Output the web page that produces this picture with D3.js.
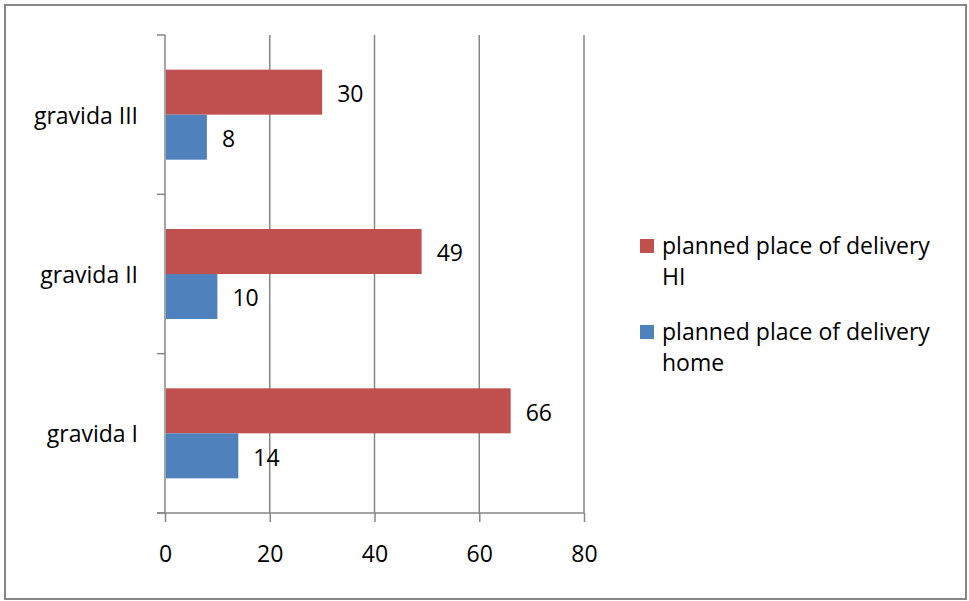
<!DOCTYPE html>
<html>
<head>
<meta charset="utf-8">
<script src="https://cdn.jsdelivr.net/npm/d3@7"></script>
<style>
  body { margin: 0; background: #fff; }
  svg text { font-family: "Open Sans", sans-serif; fill: #000; }
</style>
</head>
<body>
<div id="chart"></div>
<script>
// chart values
const categories = ['gravida III', 'gravida II', 'gravida I']
const seriesNames = ['planned place of delivery HI', 'planned place of delivery home']
const valuesHI = [30, 49, 66]
const valuesHome = [8, 10, 14]
const xTicks = [0, 20, 40, 60, 80]

const width = 969
const height = 601
const colors = ['#C0504D', '#4F81BD']
const gridColor = '#868686'
const fontFamily = '"Open Sans", sans-serif'
const fontSize = '23px'

const svg = d3
  .select('#chart')
  .append('svg')
  .attr('width', width)
  .attr('height', height)

// outer frame
svg
  .append('rect')
  .attr('x', 5)
  .attr('y', 5)
  .attr('width', 961)
  .attr('height', 594)
  .attr('fill', '#fff')
  .attr('stroke', gridColor)
  .attr('stroke-width', 2)

const plot = { left: 165, right: 584, top: 35, bottom: 513 }

const x = d3.scaleLinear().domain([0, 80]).range([plot.left, plot.right])
const y = d3.scaleBand().domain(categories).range([plot.top, plot.bottom])
const ySub = d3
  .scaleBand()
  .domain([0, 1])
  .range([0, y.bandwidth()])
  .paddingOuter(0.77)

// vertical grid lines
svg
  .append('g')
  .selectAll('line')
  .data(xTicks.slice(1))
  .join('line')
  .attr('x1', (d) => x(d))
  .attr('x2', (d) => x(d))
  .attr('y1', plot.top)
  .attr('y2', plot.bottom)
  .attr('stroke', gridColor)
  .attr('stroke-width', 1.5)

// bottom axis
const xAxis = svg
  .append('g')
  .attr('transform', `translate(0,${plot.bottom})`)
  .call(d3.axisBottom(x).tickValues(xTicks).tickSize(9).tickSizeOuter(0).tickPadding(24))
xAxis.select('.domain').attr('stroke', gridColor).attr('stroke-width', 1.5)
  .attr('d', `M${plot.left - 8},0H${plot.right}`)
xAxis.selectAll('.tick line').attr('stroke', gridColor).attr('stroke-width', 1.5)
xAxis.selectAll('.tick text').style('font-size', fontSize).attr('fill', '#000')
  .style('font-family', fontFamily)

// left axis with ticks on category boundaries
const yAxis = svg.append('g')
yAxis
  .append('line')
  .attr('x1', plot.left)
  .attr('x2', plot.left)
  .attr('y1', plot.top)
  .attr('y2', plot.bottom)
  .attr('stroke', gridColor)
  .attr('stroke-width', 1.5)
const bounds = categories.map((c) => y(c)).concat([plot.bottom])
yAxis
  .selectAll('line.tick')
  .data(bounds)
  .join('line')
  .attr('class', 'tick')
  .attr('x1', plot.left - 8)
  .attr('x2', plot.left)
  .attr('y1', (d) => d)
  .attr('y2', (d) => d)
  .attr('stroke', gridColor)
  .attr('stroke-width', 1.5)
yAxis
  .selectAll('text')
  .data(categories)
  .join('text')
  .attr('x', plot.left - 27)
  .attr('y', (d) => y(d) + y.bandwidth() / 2)
  .attr('text-anchor', 'end')
  .attr('dominant-baseline', 'central')
  .style('font-size', fontSize)
  .text((d) => d)

// bars
const rows = categories.map((c, i) => ({ cat: c, vals: [valuesHI[i], valuesHome[i]] }))
const groups = svg
  .append('g')
  .selectAll('g')
  .data(rows)
  .join('g')
  .attr('transform', (d) => `translate(0,${y(d.cat)})`)

groups
  .selectAll('rect')
  .data((d) => d.vals.map((v, k) => ({ v, k })))
  .join('rect')
  .attr('x', x(0) + 1)
  .attr('y', (d) => ySub(d.k))
  .attr('width', (d) => x(d.v) - x(0) - 1)
  .attr('height', ySub.bandwidth())
  .attr('fill', (d) => colors[d.k])

groups
  .selectAll('text')
  .data((d) => d.vals.map((v, k) => ({ v, k })))
  .join('text')
  .attr('x', (d) => x(d.v) + 15)
  .attr('y', (d) => ySub(d.k) + ySub.bandwidth() / 2 + 1)
  .attr('dominant-baseline', 'central')
  .style('font-size', fontSize)
  .text((d) => d.v)

// legend
const legend = svg.append('g').attr('transform', 'translate(640,0)')
const legendLines = [
  ['planned place of delivery', 'HI'],
  ['planned place of delivery', 'home'],
]
const legendY = [246, 332]
legendLines.forEach((lines, i) => {
  legend
    .append('rect')
    .attr('x', 0)
    .attr('y', legendY[i] - 7)
    .attr('width', 14)
    .attr('height', 14)
    .attr('fill', colors[i])
    .append('title')
    .text(seriesNames[i])
  legend
    .append('text')
    .attr('x', 22)
    .attr('y', legendY[i])
    .style('font-size', fontSize)
    .selectAll('tspan')
    .data(lines)
    .join('tspan')
    .attr('x', 22)
    .attr('dy', (d, j) => (j === 0 ? '0.35em' : 31))
    .text((d) => d)
})
</script>
</body>
</html>
